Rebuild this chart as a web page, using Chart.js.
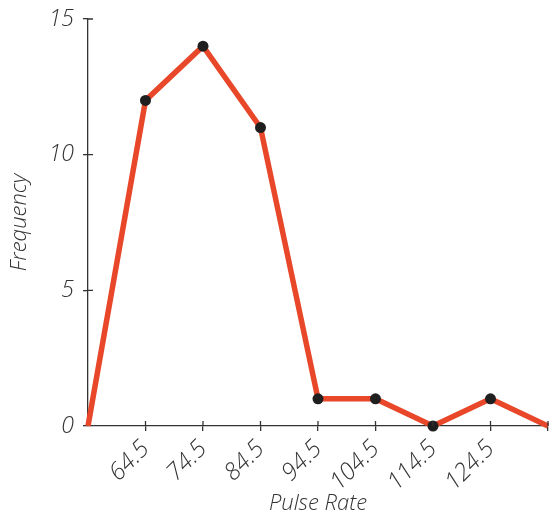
<!DOCTYPE html>
<html>
<head>
<meta charset="utf-8">
<script src="https://cdn.jsdelivr.net/npm/chart.js@4.4.1/dist/chart.umd.min.js"></script>
<style>
  html, body { margin: 0; padding: 0; background: #fff; }
  #wrap { width: 549px; height: 518px; }
</style>
</head>
<body>
<div id="wrap"><canvas id="c" width="549" height="518"></canvas></div>
<script>
// class midpoints (pulse rate) and frequency
var midpoints = [54.5, 64.5, 74.5, 84.5, 94.5, 104.5, 114.5, 124.5, 134.5];
var frequency = [0, 12, 14, 11, 1, 1, 0, 1, 0];
var yTicks = [0, 5, 10, 15];
var labelledTicks = [64.5, 74.5, 84.5, 94.5, 104.5, 114.5, 124.5];

var FONT = "'Open Sans', 'DejaVu Sans', sans-serif";
var INK = "#333333";

// small tick marks that stick into the plot area too
var innerTicks = {
  id: "innerTicks",
  afterDraw: function (chart) {
    var ctx = chart.ctx;
    var xs = chart.scales.x, ys = chart.scales.y;
    ctx.save();
    ctx.strokeStyle = INK;
    ctx.lineWidth = 1.3;
    ctx.beginPath();
    yTicks.forEach(function (v) {
      if (v === 0) return;
      var py = ys.getPixelForValue(v);
      ctx.moveTo(xs.left, py);
      ctx.lineTo(xs.left + 5, py);
    });
    labelledTicks.concat([134.5]).forEach(function (v) {
      var px = xs.getPixelForValue(v);
      ctx.moveTo(px, ys.bottom);
      ctx.lineTo(px, ys.bottom - 5);
    });
    ctx.stroke();
    ctx.restore();
  },
};

new Chart(document.getElementById("c").getContext("2d"), {
  type: "line",
  data: {
    datasets: [
      {
        data: midpoints.map(function (m, i) {
          return { x: m, y: frequency[i] };
        }),
        borderColor: "#e8472a",
        borderWidth: 5.5,
        pointRadius: midpoints.map(function (m, i) {
          return i === 0 || i === midpoints.length - 1 ? 0 : 5.5;
        }),
        pointHoverRadius: 5.5,
        pointBackgroundColor: "#1f1f1f",
        pointBorderWidth: 0,
        tension: 0,
        clip: false,
      },
    ],
  },
  options: {
    responsive: false,
    animation: false,
    layout: { padding: { top: 19, right: 1, left: 0, bottom: 0 } },
    plugins: { legend: { display: false }, tooltip: { enabled: false } },
    scales: {
      x: {
        type: "linear",
        min: 54.5,
        max: 134.5,
        afterBuildTicks: function (axis) {
          axis.ticks = midpoints.slice(1).map(function (v) {
            return { value: v };
          });
        },
        afterFit: function (axis) {
          axis.height = 92;
          axis.paddingLeft = 0;
          axis.paddingRight = 0;
        },
        border: { color: INK, width: 1.3 },
        grid: { drawOnChartArea: false, tickLength: 5, color: INK, lineWidth: 1.3 },
        ticks: {
          color: INK,
          font: { family: FONT, size: 24, style: "italic", weight: 300 },
          minRotation: 45,
          maxRotation: 45,
          padding: 4,
          callback: function (v) {
            return labelledTicks.indexOf(v) >= 0 ? String(v) : "";
          },
        },
        title: {
          display: true,
          text: "Pulse Rate",
          color: INK,
          font: { family: FONT, size: 22, style: "italic", weight: 300 },
          padding: { top: 0, bottom: 1 },
        },
      },
      y: {
        min: 0,
        max: 15,
        afterBuildTicks: function (axis) {
          axis.ticks = yTicks.map(function (v) {
            return { value: v };
          });
        },
        afterFit: function (axis) {
          axis.width = 88;
          axis.paddingTop = 0;
          axis.paddingBottom = 0;
        },
        border: { color: INK, width: 1.3 },
        grid: { drawOnChartArea: false, tickLength: 5, color: INK, lineWidth: 1.3 },
        ticks: {
          color: INK,
          font: { family: FONT, size: 23, style: "italic", weight: 300 },
          padding: 9,
        },
        title: {
          display: true,
          text: "Frequency",
          color: INK,
          font: { family: FONT, size: 22, style: "italic", weight: 300 },
          padding: { top: 7, bottom: 0 },
        },
      },
    },
  },
  plugins: [innerTicks],
});
</script>
</body>
</html>
